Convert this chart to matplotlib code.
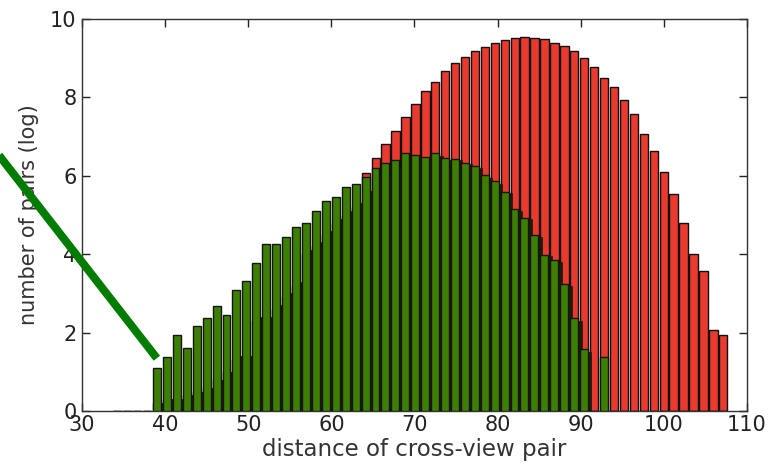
import numpy as np
import matplotlib
matplotlib.use("Agg")
import matplotlib.pyplot as plt

# ---- data (histogram of log number of pairs per distance bin) ----
bin_start = 33.76     # left edge of first bin
bin_width = 1.195
n_bins = 62

# all pairs (red)
red_values = [0, 0, 0, 0,
              0.2, 0.3, 0.3, 0.4, 0.5, 0.6, 0.8, 1.0, 1.3, 1.35,
              2.3, 2.35, 2.6, 2.9, 3.2, 4.0, 4.2, 4.5, 4.8, 5.0, 5.2,
              6.07, 6.45, 6.81, 7.14, 7.51, 7.83, 8.15, 8.40, 8.66, 8.87,
              9.04, 9.17, 9.29, 9.38, 9.46, 9.51, 9.53, 9.51, 9.48, 9.38,
              9.31, 9.17, 9.00, 8.78, 8.50, 8.27, 7.93, 7.57, 7.06, 6.63,
              6.09, 5.53, 4.79, 4.00, 3.58, 2.07, 1.94]

# intermediate (dark) series
dark_values = [0, 0, 0, 0,
               0.2, 0.3, 0.3, 0.4, 0.5, 0.6, 0.8, 1.0, 1.4, 1.4,
               2.4, 2.4, 2.7, 3.0, 3.3, 4.1, 4.3, 4.6, 4.9, 5.1, 5.3,
               5.6, 5.9, 6.1, 6.2, 6.4, 6.45, 6.4, 6.5, 6.4, 6.4,
               6.3, 6.2, 5.95, 5.8, 5.55, 5.1, 4.9, 4.45, 3.95, 3.8,
               3.2, 2.3, 1.5, 0, 0, 0, 0, 0, 0, 0,
               0, 0, 0, 0, 0, 0, 0]

# matched pairs (green)
green_values = [0, 0, 0, 0,
                1.09, 1.39, 1.94, 1.60, 2.18, 2.38, 2.69, 2.46, 3.10, 3.31,
                3.77, 4.25, 4.25, 4.43, 4.70, 4.80, 5.10, 5.36, 5.47, 5.72,
                5.79, 5.98, 6.19, 6.33, 6.39, 6.57, 6.53, 6.49, 6.57, 6.46,
                6.44, 6.33, 6.24, 6.01, 5.87, 5.59, 5.15, 4.92, 4.48, 3.99,
                3.85, 3.24, 2.37, 1.58, 0, 1.38, 0, 0, 0, 0,
                0, 0, 0, 0, 0, 0, 0, 0]

x_ticks = [30, 40, 50, 60, 70, 80, 90, 100, 110]
y_ticks = [0, 2, 4, 6, 8, 10]
x_label = "distance of cross-view pair"
y_label = "number of pairs (log)"

# pointer line, in data coordinates
pointer_x = [17.7, 39.0]
pointer_y = [7.15, 1.35]

# ---- plot ----
bin_left = bin_start + bin_width * np.arange(n_bins)

fig = plt.figure(figsize=(7.74, 4.71), dpi=100)
ax = fig.add_axes([0.106, 0.127, 0.859, 0.833])

ax.bar(bin_left, red_values, width=bin_width * 0.84, align="edge",
       color="#e83a2f", edgecolor="#111111", linewidth=1.0, zorder=2)
ax.bar(bin_left + bin_width * 0.35, dark_values, width=bin_width * 0.8,
       align="edge", color="#1b1b0e", edgecolor="#1b1b0e", linewidth=0.5,
       zorder=3)
ax.bar(bin_left, green_values, width=bin_width * 0.8, align="edge",
       color="#3d7f00", edgecolor="#151515", linewidth=1.0, zorder=4)

ax.plot(pointer_x, pointer_y, color="#007d00", linewidth=5.8,
        solid_capstyle="butt", clip_on=False, zorder=10)

ax.set_xlim(30, 110)
ax.set_ylim(0, 10)
ax.set_xticks(x_ticks)
ax.set_yticks(y_ticks)
ax.tick_params(direction="in", length=6, width=1, top=True, right=True,
               labelsize=15, colors="#222222", pad=4)
ax.tick_params(axis="x", pad=3)
for s in ax.spines.values():
    s.set_color("#333333")
    s.set_linewidth(1.0)
ax.set_xlabel(x_label, fontsize=16.5, color="#333333", labelpad=2)
ax.set_ylabel(y_label, fontsize=15, color="#333333", labelpad=8)

fig.savefig("out.png", dpi=100)
